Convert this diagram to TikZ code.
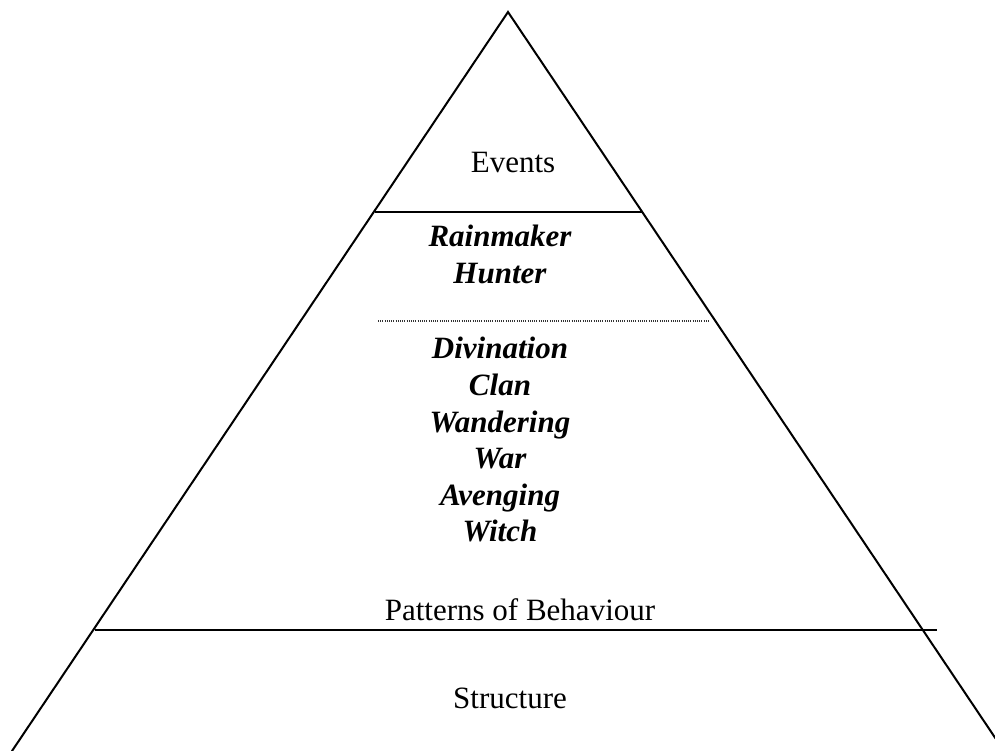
\documentclass[tikz,border=0pt]{standalone}
\usepackage{fontspec}
\setmainfont{Liberation Serif}
\begin{document}
\begin{tikzpicture}[x=1pt,y=-1pt,
  side/.style={line width=2pt,line cap=round},
  divider/.style={line width=1.6pt},
  softdiv/.style={line width=1.1pt,dash pattern=on 1pt off 1.2pt,black!80},
  plainlabel/.style={anchor=base,inner sep=0pt,font=\fontsize{31}{36}\selectfont},
  termlabel/.style={anchor=base,inner sep=0pt,font=\fontsize{31}{36}\selectfont\bfseries\itshape}]
\clip (0,0) rectangle (995,751);
% triangle corners
\coordinate (apex) at (508,12);
\coordinate (bl) at (12,751);
\coordinate (br) at (1004,751);
\draw[side] (bl) -- (apex) -- (br);
% level dividers
\coordinate (e1) at (375,212);  \coordinate (e2) at (642,212);
\coordinate (d1) at (378,321);  \coordinate (d2) at (710,321);
\coordinate (p1) at (95,630);   \coordinate (p2) at (937,630);
\draw[divider] (e1) -- (e2);
\draw[softdiv] (d1) -- (d2);
\draw[divider] (p1) -- (p2);
% level names
\node[plainlabel] (events) at (513,173) {Events};
\node[plainlabel] (patterns) at (520,620) {Patterns of Behaviour};
\node[plainlabel] (structure) at (510,708) {Structure};
% terms
\node[termlabel] (rain) at (500,247) {Rainmaker};
\node[termlabel] (hunter) at (500,283) {Hunter};
\node[termlabel] (div) at (500,358) {Divination};
\node[termlabel] (clan) at (500,395) {Clan};
\node[termlabel] (wand) at (500,432) {Wandering};
\node[termlabel] (war) at (500,468) {War};
\node[termlabel] (aveng) at (500,505) {Avenging};
\node[termlabel] (witch) at (500,541) {Witch};
\end{tikzpicture}
\end{document}
